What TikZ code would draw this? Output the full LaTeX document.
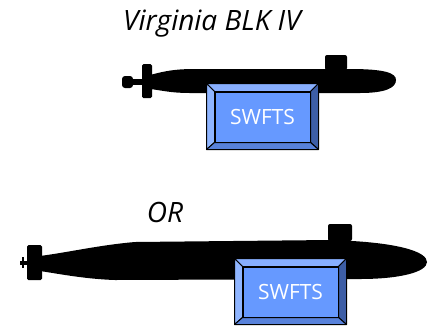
\documentclass[tikz,border=0pt]{standalone}
\usepackage{fontspec}
\setmainfont{Open Sans}
\usetikzlibrary{calc}

\definecolor{boxface}{HTML}{6699FF}
\definecolor{boxtop}{HTML}{88AFFF}
\definecolor{boxleft}{HTML}{8FB5FF}
\definecolor{boxright}{HTML}{3D5EA6}
\definecolor{boxbottom}{HTML}{5882DB}

% bevel frame round a named box node
\newcommand{\bevel}[1]{
  \coordinate (#1onw) at ($(#1.north west)+(-8,-8)$);
  \coordinate (#1one) at ($(#1.north east)+(8,-8)$);
  \coordinate (#1ose) at ($(#1.south east)+(8,7)$);
  \coordinate (#1osw) at ($(#1.south west)+(-8,7)$);
  \draw[bevel line,fill=boxtop] (#1onw) -- (#1one) -- (#1.north east) -- (#1.north west) -- cycle;
  \draw[bevel line,fill=boxleft] (#1onw) -- (#1.north west) -- (#1.south west) -- (#1osw) -- cycle;
  \draw[bevel line,fill=boxright] (#1one) -- (#1ose) -- (#1.south east) -- (#1.north east) -- cycle;
  \draw[bevel line,fill=boxbottom] (#1osw) -- (#1.south west) -- (#1.south east) -- (#1ose) -- cycle;
  \draw[line width=1.4pt] (#1onw) rectangle (#1ose);
}

\begin{document}
\begin{tikzpicture}[x=1pt,y=-1pt,
  hull/.style={fill=black},
  bevel line/.style={draw=black,line width=1pt,line join=round},
  box node/.style={rectangle,fill=boxface,draw=black,line width=1pt,
  text=white,font=\fontsize{21}{24}\selectfont,
  minimum width=95pt,minimum height=50pt,inner sep=0pt},
  title node/.style={font=\fontsize{28}{32}\selectfont\itshape,inner sep=0pt}]
  \useasboundingbox (0,0) rectangle (433,325);

  \node[title node] (title) at (212,24) {Virginia BLK IV};
  \node[title node] (or) at (165,212) {OR};

  % Virginia
  \fill[hull] (150,75) .. controls (165,71) and (175,69) .. (195,69) -- (350,69)
    .. controls (385,69) and (396,73) .. (396,80)
    .. controls (396,88) and (385,93) .. (360,93) -- (190,93)
    .. controls (170,93) and (160,90) .. (150,89) -- cycle;
  \fill[hull,rounded corners=2pt] (325,70) -- (325,55) -- (347,55) -- (347,70) -- cycle;
  \fill[hull,rounded corners=1.5pt] (142,64) rectangle (152,98);
  \fill[hull] (130,79) rectangle (143,85);
  \fill[hull,rounded corners=3pt] (122,76) rectangle (133,88);

  % longer hull
  \fill[hull] (40,256) .. controls (70,252) and (100,245) .. (135,242) -- (330,240)
    .. controls (400,242) and (427,252) .. (427,262)
    .. controls (427,272) and (400,279) .. (360,279) -- (115,280)
    .. controls (85,279) and (60,274) .. (40,271) -- cycle;
  \fill[hull,rounded corners=2pt] (328,241) -- (328,224) -- (352,224) -- (352,241) -- cycle;
  \fill[hull,rounded corners=1.5pt] (27,245) rectangle (42,280);
  \fill[hull] (20,260.5) rectangle (28,264.5);
  \fill[hull] (22,257) rectangle (24,268);

  \node[box node] (box1) at (262.5,117) {SWFTS};
  \bevel{box1}
  \node[box node] (box2) at (290.5,292) {SWFTS};
  \bevel{box2}
\end{tikzpicture}
\end{document}
